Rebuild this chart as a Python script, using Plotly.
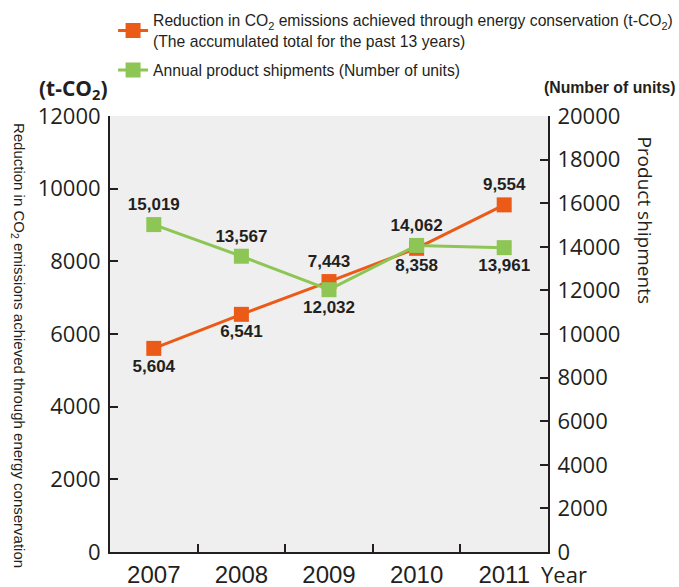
import plotly.graph_objects as go

years = ["2007", "2008", "2009", "2010", "2011"]
co2_reduction = [5604, 6541, 7443, 8358, 9554]
shipments = [15019, 13567, 12032, 14062, 13961]
co2_label_pos = ["bottom center", "bottom center", "top center", "bottom center", "top center"]
ship_label_pos = ["top center", "top center", "bottom center", "top center", "bottom center"]

ORANGE = "#ec5a17"
GREEN = "#8dc655"
DARK = "#231f20"
SANS = "Liberation Sans, Arial, sans-serif"
MYRIAD = "Open Sans, Noto Sans, sans-serif"

def fmt(v):
    return f"{v:,}"

fig = go.Figure()
fig.add_trace(go.Scatter(
    x=years, y=shipments, yaxis="y2", name="Annual product shipments (Number of units)",
    mode="lines+markers+text", line=dict(color=GREEN, width=3),
    marker=dict(symbol="square", size=15, color=GREEN),
    text=[fmt(v) for v in shipments], textposition=ship_label_pos,
    textfont=dict(family=SANS, size=17, color=DARK, weight="bold"),
    legendgroup="g", legendrank=2, hoverinfo="skip",
))
fig.add_trace(go.Scatter(
    x=years, y=co2_reduction, yaxis="y",
    name="Reduction in CO<sub>2</sub> emissions achieved through energy conservation (t-CO<sub>2</sub>)<br>(The accumulated total for the past 13 years)",
    mode="lines+markers+text", line=dict(color=ORANGE, width=3),
    marker=dict(symbol="square", size=15, color=ORANGE),
    text=[fmt(v) for v in co2_reduction], textposition=co2_label_pos,
    textfont=dict(family=SANS, size=17, color=DARK, weight="bold"),
    legendgroup="o", legendrank=1, hoverinfo="skip",
))

axis_common = dict(showline=True, linecolor=DARK, linewidth=2, showgrid=False, zeroline=False,
                   ticks="inside", ticklen=8, tickwidth=1.5, tickcolor=DARK, automargin=False)

fig.update_layout(
    width=679, height=587, autosize=False,
    margin=dict(l=110, r=131, t=116, b=35, autoexpand=False),
    paper_bgcolor="white", plot_bgcolor="#efefef",
    font=dict(family=MYRIAD, color=DARK),
    xaxis=dict(type="category", range=[-0.5, 4.5], tickson="boundaries",
               tickfont=dict(family=SANS, size=24, color=DARK), ticklabelstandoff=0,
               **axis_common),
    yaxis=dict(range=[0, 12000], dtick=2000, tickformat="d",
               tickfont=dict(family=MYRIAD, size=22, color=DARK),
               ticklabelstandoff=3, **axis_common),
    yaxis2=dict(range=[0, 20000], dtick=2000, tickformat="d", overlaying="y", side="right",
                tickfont=dict(family=MYRIAD, size=22, color=DARK), ticklabelstandoff=3, **axis_common),
    legend=dict(x=0.007, y=1.258, xanchor="left", yanchor="top", traceorder="grouped",
                tracegroupgap=6, bgcolor="rgba(0,0,0,0)",
                font=dict(family=SANS, size=15.7, color=DARK), itemwidth=30),
    showlegend=True,
    annotations=[
        dict(text="Reduction in CO<sub>2</sub> emissions achieved through energy conservation",
             textangle=90, xref="paper", yref="paper", x=-0.21, y=0.475, xanchor="center", yanchor="middle",
             showarrow=False, font=dict(family=SANS, size=15, color=DARK)),
        dict(text="Product shipments", textangle=90, xref="paper", yref="paper",
             x=1.221, y=0.761, xanchor="center", yanchor="middle", showarrow=False,
             font=dict(family=MYRIAD, size=19, color=DARK)),
        dict(text="(t-CO<sub>2</sub>)", xref="paper", yref="paper", x=0.0, y=1.062,
             xanchor="right", yanchor="middle", showarrow=False,
             font=dict(family=MYRIAD, size=21, color=DARK, weight="bold")),
        dict(text="(Number of units)", xref="paper", yref="paper", x=1.297, y=1.066,
             xanchor="right", yanchor="middle", showarrow=False,
             font=dict(family=SANS, size=15.8, color=DARK, weight="bold")),
        dict(text="Year", xref="paper", yref="paper", x=0.979, y=-0.051,
             xanchor="left", yanchor="middle", showarrow=False,
             font=dict(family=MYRIAD, size=22, color=DARK)),
    ],
)

fig.write_html("out.html", config={"displayModeBar": False},
               post_script="document.body.style.margin='0';document.body.style.padding='0';")
